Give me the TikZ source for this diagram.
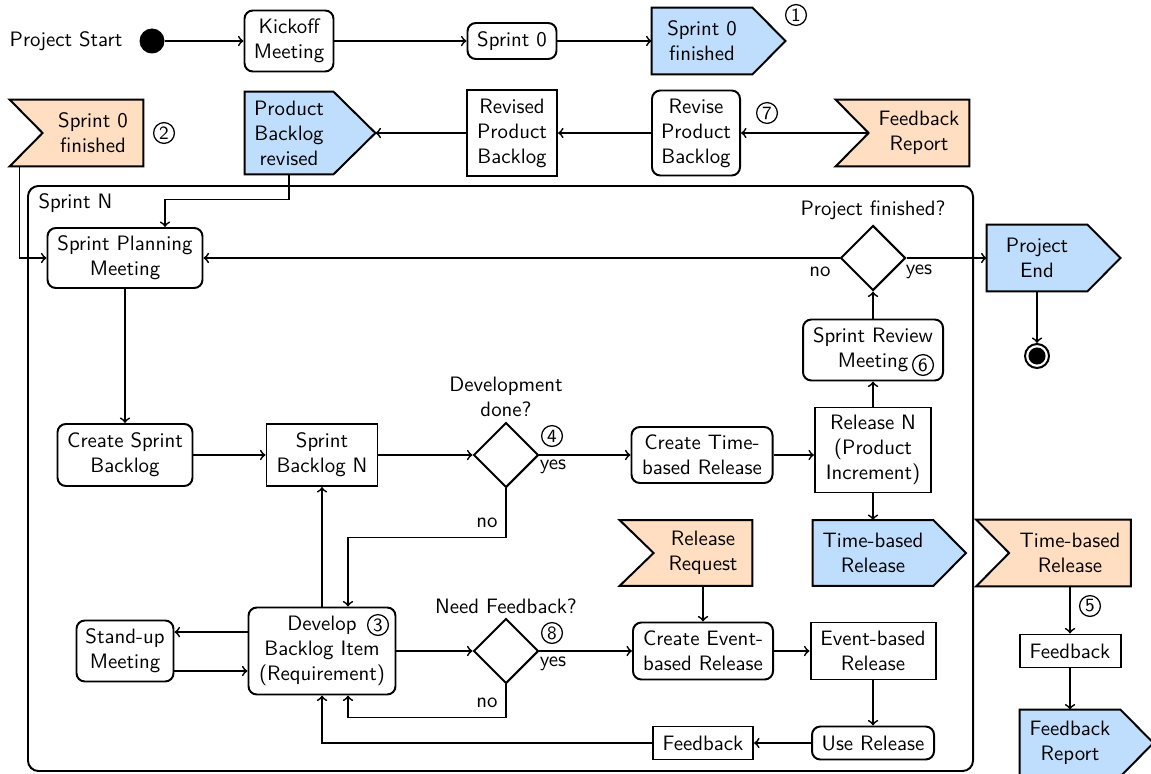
\documentclass[tikz,border=0pt]{standalone}
\usepackage{tikz}
\usetikzlibrary{shapes.geometric,calc,backgrounds}
\definecolor{sendblue}{RGB}{191,222,253}
\definecolor{recvorange}{RGB}{255,222,194}
\newdimen\pxu \pxu=0.48pt

\tikzset{
  sz/.style 2 args={minimum width=#1*\pxu, minimum height=#2*\pxu},
  base/.style={draw, line width=0.95pt, align=center, inner sep=1pt},
  activity/.style={base, rounded corners=4pt},
  object/.style={base},
  sig/.style={align=center, inner sep=1pt},
  decision/.style={diamond, draw, line width=0.95pt, inner sep=0pt, aspect=1, minimum size=65*\pxu},
  flow/.style={->, line width=0.85pt},
  cnum/.style={circle, draw, line width=0.6pt, inner sep=0pt, minimum size=10pt, font=\sffamily\small},
  plain/.style={inner sep=1pt, align=center},
}

% outline of a send signal (pointed to the east) behind a body node
\newcommand\sendout[2]{%
  \draw[line width=0.95pt, fill=sendblue] (#1.north west) -- (#1.north east) -- ([xshift=#2]#1.east)
    -- (#1.south east) -- (#1.south west) -- cycle;}
% outline of a receive signal (notched on the west) behind a body node
\newcommand\recvout[2]{%
  \draw[line width=0.95pt, fill=recvorange] ([xshift=-#2]#1.north west) -- (#1.north east) -- (#1.south east)
    -- ([xshift=-#2]#1.south west) -- (#1.west) -- cycle;}

\begin{document}
\begin{tikzpicture}[x=0.48pt, y=-0.48pt, font=\sffamily, >=to]
\useasboundingbox (0,0) rectangle (1151,773);

% the sprint frame
\node[draw, line width=0.95pt, rounded corners=5pt, sz={945}{585}] (sprint) at (500.5,478.5) {};
\node[anchor=west, plain] (sprintlbl) at (36,203) {Sprint N};

% top row
\node[plain] (pstart) at (66,41) {Project Start};
\node[circle, fill=black, minimum size=25*\pxu, inner sep=0pt] (start) at (152,41) {};
\node[activity, sz={89}{61}] (kick) at (289,41) {Kickoff\\Meeting};
\node[activity, sz={89}{36}] (s0) at (512,41) {Sprint 0};
\node[sig, sz={100}{66}] (s0f) at (702,41) {Sprint 0\\finished};
\node[cnum] (c1) at (796,15) {1};

% second row
\node[sig, sz={100}{66}] (s0r) at (93,133) {Sprint 0\\finished};
\node[cnum] (c2) at (164,133) {2};
\node[sig, sz={88}{82}] (pbr) at (289,133) {Product\\Backlog\\revised};
\coordinate (pbrtip) at ([xshift=20.16pt]pbr.east);
\node[object, sz={90}{86}] (rpb) at (512,133) {Revised\\Product\\Backlog};
\node[activity, sz={88}{85}] (rvpb) at (696,133) {Revise\\Product\\Backlog};
\node[cnum] (c7) at (767,113) {7};
\node[sig, sz={100}{66}] (fbr) at (919,133) {Feedback\\Report};

% planning and closing
\node[activity, sz={155}{60}] (spm) at (125,258) {Sprint Planning\\Meeting};
\node[decision] (pf) at (873,258) {};
\node[plain] (pflbl) at (873,210) {Project finished?};
\node[plain] (pfno) at (820,272) {no};
\node[plain] (pfyes) at (919,272) {yes};
\node[sig, sz={100}{66}] (pe) at (1037,258) {Project\\End};
\node[circle, draw, line width=0.95pt, minimum size=24*\pxu, inner sep=0pt,
  path picture={\fill[black] (path picture bounding box.center) circle (4.1pt);}] (endc) at (1037,356) {};
\node[activity, sz={140}{61}] (srm) at (873,350) {Sprint Review\\Meeting};
\node[cnum] (c6) at (923,365) {6};

% development loop
\node[activity, sz={135}{62}] (csb) at (125,455) {Create Sprint\\Backlog};
\node[object, sz={111}{62}] (sbn) at (322,455) {Sprint\\Backlog N};
\node[decision] (dd) at (506,455) {};
\node[plain] (ddlbl) at (506,397) {Development\\done?};
\node[cnum] (c4) at (552,436) {4};
\node[plain] (ddyes) at (553,467) {yes};
\node[plain] (ddno) at (487,523) {no};
\node[activity, sz={141}{56}] (ctr) at (702,455) {Create Time-\\based Release};
\node[object, sz={116}{85}] (rn) at (873,450) {Release N\\(Product\\Increment)};
\node[sig, sz={120}{65}] (tbr) at (873,553) {Time-based\\Release};
\node[sig, sz={98}{65}] (rr) at (703,553) {Release\\Request};

\node[activity, sz={97}{61}] (sum) at (125,651) {Stand-up\\Meeting};
\node[activity, sz={147}{87}] (dev) at (322,651) {Develop\\Backlog Item\\(Requirement)};
\node[cnum] (c3) at (378,625) {3};
\node[decision] (nf) at (506,651) {};
\node[plain] (nflbl) at (506,606) {Need Feedback?};
\node[cnum] (c8) at (552,633) {8};
\node[plain] (nfyes) at (553,664) {yes};
\node[plain] (nfno) at (487,703) {no};
\node[activity, sz={140}{57}] (cer) at (703,651) {Create Event-\\based Release};
\node[object, sz={125}{57}] (ebr) at (873,651) {Event-based\\Release};
\node[activity, sz={122}{33}] (ur) at (873,743) {Use Release};
\node[object, sz={100}{33}] (fb) at (703,743) {Feedback};

% feedback column
\node[sig, sz={121}{66}] (tbo) at (1070,553) {Time-based\\Release};
\node[cnum] (c5) at (1090,606) {5};
\node[object, sz={101}{33}] (fb2) at (1070,651) {Feedback};
\node[sig, sz={100}{66}] (fbrep) at (1070,743) {Feedback\\Report};

% signal outlines
\begin{pgfonlayer}{background}
  \sendout{s0f}{15.84pt}
  \sendout{pbr}{20.16pt}
  \sendout{pe}{15.84pt}
  \sendout{tbr}{15.6pt}
  \sendout{fbrep}{15.84pt}
  \recvout{s0r}{15.84pt}
  \recvout{fbr}{15.84pt}
  \recvout{rr}{16.32pt}
  \recvout{tbo}{15.84pt}
\end{pgfonlayer}

% connectors
\draw[flow] (start) -- (kick);
\draw[flow] (kick) -- (s0);
\draw[flow] (s0) -- (s0f.west);
\draw[flow] (fbr.west) -- (rvpb.east);
\draw[flow] (rvpb) -- (rpb);
\draw[flow] (rpb.west) -- (pbrtip);
\draw[flow] ([xshift=-11.04pt]s0r.south west) |- (spm.west);
\draw[flow] (pbr.south) -- ++(0,25) -| ([xshift=19.2pt]spm.north);
\draw[flow] (spm) -- (csb);
\draw[flow] (csb) -- (sbn);
\draw[flow] (sbn) -- (dd.west);
\draw[flow] (dd.east) -- (ctr.west);
\draw[flow] (ctr.east) -- (ctr.east -| rn.west);
\draw[flow] (rn) -- (srm);
\draw[flow] (srm) -- (pf.south);
\draw[flow] (pf.west) -- (spm.east);
\draw[flow] (pf.east) -- (pe.west);
\draw[flow] (pe.south) -- (endc);
\draw[flow] (rn.south) -- (tbr.north);
\draw[flow] (dd.south) -- ++(0,49) -| ([xshift=12.48pt]dev.north);
\draw[flow] (dev.north) -- (sbn.south);
\draw[flow] ([yshift=9.1pt]dev.west) -- ([yshift=9.1pt]sum.east);
\draw[flow] ([yshift=-9.6pt]sum.east) -- ([yshift=-9.6pt]dev.west);
\draw[flow] (dev.east) -- (nf.west);
\draw[flow] (nf.east) -- (cer.west);
\draw[flow] (nf.south) -- ++(0,33) -| ([xshift=12.48pt]dev.south);
\draw[flow] (cer) -- (ebr);
\draw[flow] (ebr) -- (ur);
\draw[flow] (ur) -- (fb);
\draw[flow] (fb.west) -| (dev.south);
\draw[flow] (rr.south) -- (cer.north);
\draw[flow] (tbo.south) -- (fb2.north);
\draw[flow] (fb2.south) -- (fbrep.north);
\end{tikzpicture}
\end{document}
